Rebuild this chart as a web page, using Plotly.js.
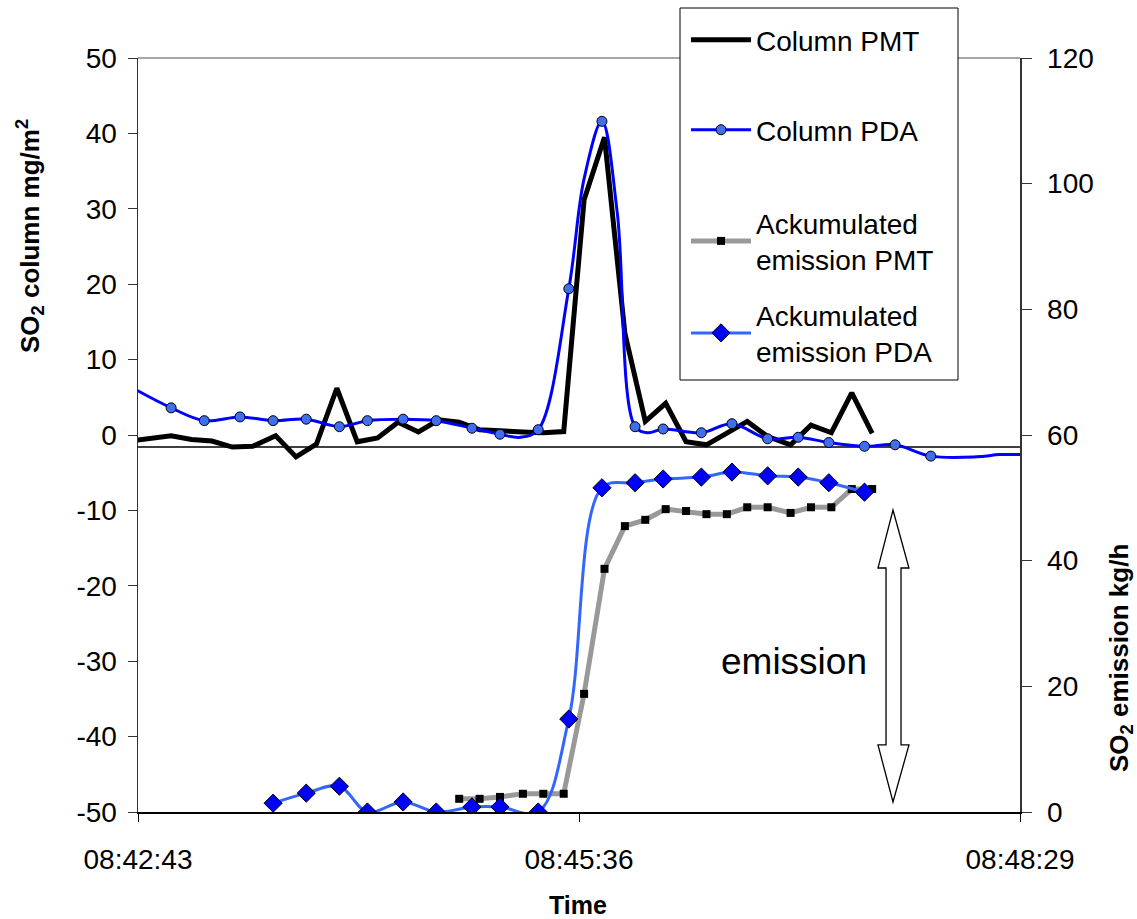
<!DOCTYPE html>
<html>
<head>
<meta charset="utf-8">
<script src="https://cdn.plot.ly/plotly-3.0.1.min.js"></script>
<style>html,body{margin:0;padding:0;background:#fff;}#chart{width:1137px;height:919px;}</style>
</head>
<body>
<div id="chart"></div>
<script>
// ---- data ----
const DAY = '2000-01-01 ';
const xTickTimes = ['08:42:43', '08:45:36', '08:48:29'];
const yLeftTicks = [-50, -40, -30, -20, -10, 0, 10, 20, 30, 40, 50];
const yLeftTickText = ['-50', '-40', '-30', '-20', '-10', '0', '10', '20', '30', '40', '50'];
const yRightTicks = [0, 20, 40, 60, 80, 100, 120];

// Column PMT (left axis, mg/m2)
const pmtTimes = ['08:42:40','08:42:48','08:42:56','08:43:04','08:43:12','08:43:20','08:43:28','08:43:37','08:43:45','08:43:53',
                  '08:44:01','08:44:09','08:44:17','08:44:25','08:44:33','08:44:41','08:44:49','08:44:57','08:45:05','08:45:14',
                  '08:45:22','08:45:30','08:45:38','08:45:46','08:45:54','08:46:02','08:46:10','08:46:18','08:46:26','08:46:34',
                  '08:46:42','08:46:50','08:46:59','08:47:07','08:47:15','08:47:23','08:47:31'];
const pmtColumn = [-0.8,-0.4,-0.1,-0.6,-0.8,-1.6,-1.5,-0.1,-2.9,-1.2,
                   6.2,-0.9,-0.4,1.7,0.4,2.0,1.7,0.7,0.5,0.4,
                   0.3,0.45,31.2,39.5,13.5,1.8,4.2,-0.9,-1.3,0.3,
                   1.8,-0.2,-1.3,1.3,0.3,5.6,0.2];

// Column PDA line (left axis)
const pdaLineTimes = ['08:42:40','08:42:56','08:43:09','08:43:23','08:43:36','08:43:49','08:44:02','08:44:13','08:44:27','08:44:40',
                      '08:44:54','08:45:05','08:45:13','08:45:20','08:45:32','08:45:38','08:45:45','08:45:51','08:45:58','08:46:03',
                      '08:46:09','08:46:24','08:46:36','08:46:50','08:47:02','08:47:14','08:47:28','08:47:40','08:47:54','08:48:12',
                      '08:48:21','08:48:31'];
const pdaLineValues = [6.4,3.6,1.9,2.4,1.9,2.1,1.1,1.9,2.1,1.9,
                       0.9,0.1,-0.3,0.7,19.4,34.0,41.6,29.5,1.1,0.3,
                       0.8,0.3,1.5,-0.5,-0.3,-1.0,-1.5,-1.3,-2.8,-2.9,
                       -2.6,-2.6];
// Column PDA marked points
const pdaMarkerTimes = ['08:42:56','08:43:09','08:43:23','08:43:36','08:43:49','08:44:02','08:44:13','08:44:27','08:44:40','08:44:54',
                        '08:45:05','08:45:20','08:45:32','08:45:45','08:45:58','08:46:09','08:46:24','08:46:36','08:46:50','08:47:02',
                        '08:47:14','08:47:28','08:47:40','08:47:54'];
const pdaMarkerValues = [3.6,1.9,2.4,1.9,2.1,1.1,1.9,2.1,1.9,0.9,
                         0.1,0.7,19.4,41.6,1.1,0.8,0.3,1.5,-0.5,-0.3,
                         -1.0,-1.5,-1.3,-2.8];

// Accumulated emission (right axis, kg/h)
const emisPmtTimes = pmtTimes.slice(16);
const emisPmt = [2.1,2.1,2.4,2.9,2.9,2.9,18.8,38.7,45.5,46.5,48.2,47.9,47.4,47.4,48.5,48.5,47.6,48.5,48.5,51.4,51.4];
const emisPdaTimes = pdaMarkerTimes.slice(3, 22);
const emisPda = [1.4,3.0,4.1,0.0,1.6,0.0,0.8,0.8,0.0,14.8,51.6,52.4,53.0,53.3,54.1,53.5,53.3,52.4,50.9];

const zeroLineValue = -1.6;   // horizontal reference line (left axis)

// ---- helpers ----
const d = t => DAY + t;
const FONT = 'Liberation Sans, Arial, sans-serif';
const L = 138, R = 1020, T = 58, B = 812;
const px = x => (x - L) / (R - L);
const py = y => (B - y) / (B - T);

const traces = [
  { name: 'Ackumulated<br>emission PMT', x: emisPmtTimes.map(d), y: emisPmt, yaxis: 'y2', type: 'scatter',
    mode: 'lines+markers', line: { color: '#999999', width: 5 },
    marker: { symbol: 'square', color: '#000000', size: 8 }, legend: 'legend3' },
  { name: 'Ackumulated<br>emission PDA', x: emisPdaTimes.map(d), y: emisPda, yaxis: 'y2', type: 'scatter',
    mode: 'lines+markers', line: { color: '#3366FF', width: 3, shape: 'spline', smoothing: 1 },
    marker: { symbol: 'diamond', color: '#0000FF', size: 14, line: { color: '#000000', width: 1 } },
    legend: 'legend4' },
  { name: 'Column PMT', x: pmtTimes.map(d), y: pmtColumn, type: 'scatter', mode: 'lines',
    line: { color: '#000000', width: 5 }, legend: 'legend' },
  { name: 'Column PDA', x: pdaLineTimes.map(d), y: pdaLineValues, type: 'scatter', mode: 'lines',
    line: { color: '#0000FF', width: 3, shape: 'spline', smoothing: 1 }, showlegend: false },
  { name: 'Column PDA', x: pdaMarkerTimes.map(d), y: pdaMarkerValues, type: 'scatter', mode: 'markers',
    marker: { symbol: 'circle', color: '#3F6FF0', size: 10, line: { color: '#000000', width: 1 } },
    showlegend: false },
  { name: 'Column PDA', x: [null], y: [null], type: 'scatter', mode: 'lines+markers',
    line: { color: '#0000FF', width: 3 },
    marker: { symbol: 'circle', color: '#3F6FF0', size: 10, line: { color: '#000000', width: 1 } },
    legend: 'legend2' }
];

const arrow = [[893,510],[909,568],[901,568],[901,745],[909,745],[893,802],[878,745],[886,745],[886,568],[878,568]];
const arrowPath = 'M' + arrow.map(p => px(p[0]).toFixed(4) + ',' + py(p[1]).toFixed(4)).join(' L') + ' Z';

function legendAt(centerY) {
  return {
    x: px(686), y: py(centerY), xanchor: 'left', yanchor: 'middle',
    bgcolor: 'rgba(0,0,0,0)', borderwidth: 0, itemwidth: 60,
    font: { family: FONT, size: 28, color: '#000000' }
  };
}

const layout = {
  width: 1137, height: 919,
  margin: { l: L, r: 1137 - R, t: T, b: 919 - B, pad: 0 },
  paper_bgcolor: '#ffffff', plot_bgcolor: '#ffffff',
  font: { family: FONT, size: 28, color: '#000000' },
  showlegend: true,
  legend: legendAt(40),
  legend2: legendAt(130),
  legend3: legendAt(241),
  legend4: legendAt(333),
  xaxis: {
    type: 'date', range: [d(xTickTimes[0]), d(xTickTimes[2])],
    tickmode: 'array', tickvals: xTickTimes.map(d), ticktext: xTickTimes,
    ticks: 'outside', ticklen: 8, tickcolor: '#000000', tickwidth: 1,
    showline: true, linecolor: '#000000', linewidth: 1.5,
    showgrid: false, zeroline: false, ticklabelstandoff: 14,
    tickfont: { family: FONT, size: 28, color: '#000000' }
  },
  yaxis: {
    range: [-50, 50], tickmode: 'array', tickvals: yLeftTicks, ticktext: yLeftTickText,
    ticks: 'outside', ticklen: 9, tickcolor: '#333333',
    showline: true, linecolor: '#333333', linewidth: 1.5, showgrid: false, zeroline: false,
    tickfont: { family: FONT, size: 28, color: '#000000' }, ticklabelstandoff: 5
  },
  yaxis2: {
    overlaying: 'y', side: 'right', anchor: 'x',
    range: [0, 120], tickmode: 'array', tickvals: yRightTicks,
    ticks: 'outside', ticklen: 10, tickcolor: '#333333',
    showline: true, linecolor: '#333333', linewidth: 1.5, showgrid: false, zeroline: false,
    tickfont: { family: FONT, size: 28, color: '#000000' }, ticklabelstandoff: 10
  },
  yaxis3: {
    overlaying: 'y', side: 'right', anchor: 'x',
    range: [0, 120], tickmode: 'array', tickvals: yRightTicks, ticks: 'inside', ticklen: 10, tickcolor: '#333333',
    showline: false, showgrid: false, zeroline: false, showticklabels: false
  },
  shapes: [
    { type: 'line', xref: 'paper', yref: 'y', x0: 0, x1: 1, y0: zeroLineValue, y1: zeroLineValue,
      line: { color: '#000000', width: 1.5 }, layer: 'below' },
    { type: 'line', xref: 'paper', yref: 'paper', x0: 0, x1: 1, y0: 1, y1: 1,
      line: { color: '#888888', width: 1.5 }, layer: 'below' },
    { type: 'rect', xref: 'paper', yref: 'paper', x0: px(680), x1: px(958), y0: py(380), y1: py(8),
      fillcolor: '#ffffff', line: { color: '#000000', width: 1 }, layer: 'above' },
    { type: 'path', xref: 'paper', yref: 'paper', path: arrowPath,
      fillcolor: '#ffffff', line: { color: '#000000', width: 1.3 }, layer: 'above' }
  ],
  annotations: [
    { text: 'emission', xref: 'paper', yref: 'paper', x: px(794), y: py(661), xanchor: 'center', yanchor: 'middle',
      showarrow: false, font: { family: FONT, size: 37, color: '#000000' } },
    { text: '<b>SO<sub>2</sub> column mg/m<sup>2</sup></b>', xref: 'paper', yref: 'paper', x: px(30), y: py(236),
      xanchor: 'center', yanchor: 'middle', textangle: -90, showarrow: false,
      font: { family: FONT, size: 26, color: '#000000' } },
    { text: '<b>SO<sub>2</sub> emission kg/h</b>', xref: 'paper', yref: 'paper', x: px(1120), y: py(658),
      xanchor: 'center', yanchor: 'middle', textangle: -90, showarrow: false,
      font: { family: FONT, size: 26, color: '#000000' } },
    { text: '<b>Time</b>', xref: 'paper', yref: 'paper', x: px(578), y: py(905),
      xanchor: 'center', yanchor: 'middle', showarrow: false,
      font: { family: FONT, size: 25, color: '#000000' } }
  ]
};

Plotly.newPlot('chart', traces, layout, { displayModeBar: false, staticPlot: true });
</script>
</body>
</html>
